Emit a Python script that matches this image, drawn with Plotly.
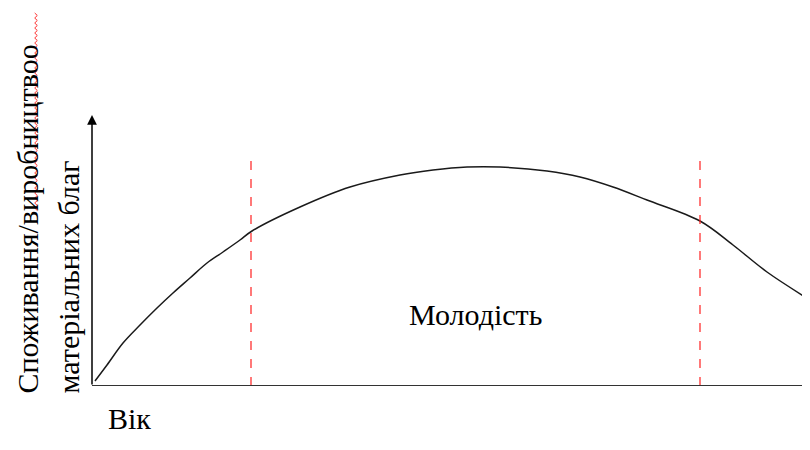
import plotly.graph_objects as go

# curve (x: age, y: consumption/production, arbitrary units)
age = [3, 15, 31, 48, 65, 81, 98, 115, 131, 148, 160, 208, 258, 308, 341, 375, 408,
       455, 488, 521, 555, 608, 641, 675, 718]
consumption = [5, 21, 43, 61, 78, 93, 108, 123, 134, 146, 155, 179, 199, 211, 216, 219, 219,
               215, 209, 199, 186, 165, 141, 114, 86]

# borders of the "youth" stage
stage_bounds = [159, 608]
stage_top = 226
axis_top = 271

FONT = "Liberation Serif, Times New Roman, serif"
FS = 30

# page body has an 8px margin; plot area spans page px 92..810 x 100..386
L, T, W, H = 92, 100, 718, 286


def px(xp):
    return (xp - L) / W


def py(yp):
    return (T + H - yp) / H


fig = go.Figure()

fig.add_trace(go.Scatter(
    x=age, y=consumption, mode="lines",
    line=dict(color="#1a1a1a", width=1.5, shape="spline", smoothing=1.0),
    hoverinfo="skip", showlegend=False,
))

for xb in stage_bounds:
    fig.add_shape(type="line", x0=xb, x1=xb, y0=0, y1=stage_top,
                  line=dict(color="#ff2020", width=1.2, dash="dash"))

# horizontal axis
fig.add_shape(type="line", x0=0, x1=718, y0=0, y1=0,
              line=dict(color="#333333", width=2))

# vertical axis with arrow
fig.add_annotation(x=0, y=axis_top, ax=0, ay=0, xref="x", yref="y", axref="x", ayref="y",
                   showarrow=True, arrowhead=2, arrowsize=1.3, arrowwidth=1.5,
                   arrowcolor="black", text="")

fig.add_annotation(x=px(475), y=py(333), xref="paper", yref="paper", text="Молодість",
                   showarrow=False, font=dict(family=FONT, size=FS, color="black"))
fig.add_annotation(x=px(106), y=py(437), xref="paper", yref="paper", text="Вік",
                   showarrow=False, xanchor="left",
                   font=dict(family=FONT, size=FS, color="black"))

fig.add_annotation(x=px(27), y=py(396), xref="paper", yref="paper",
                   text="Споживання/виробництвоо",
                   textangle=-90, showarrow=False, xanchor="center", yanchor="bottom",
                   font=dict(family=FONT, size=FS, color="black"))
fig.add_annotation(x=px(68), y=py(396), xref="paper", yref="paper",
                   text="матеріальних благ",
                   textangle=-90, showarrow=False, xanchor="center", yanchor="bottom",
                   font=dict(family=FONT, size=FS, color="black"))

# spell-check squiggle under "виробництвоо"
segs = []
yy, k = 13, 0
while yy <= 212:
    xx = 36 + (1.3 if k % 2 else -1.3)
    segs.append(("M" if k == 0 else "L") + f" {px(xx):.4f} {py(yy):.4f}")
    yy += 2.5
    k += 1
fig.add_shape(type="path", xref="paper", yref="paper", path=" ".join(segs),
              line=dict(color="#ff3030", width=1))

fig.update_layout(
    width=802, height=442,
    margin=dict(l=84, r=0, t=92, b=64),
    paper_bgcolor="white", plot_bgcolor="white",
    xaxis=dict(range=[0, 718], visible=False),
    yaxis=dict(range=[0, 286], visible=False),
)

fig.write_html("out.html")
